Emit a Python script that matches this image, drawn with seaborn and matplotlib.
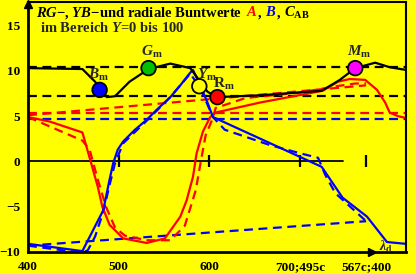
import matplotlib
matplotlib.use("Agg")
import matplotlib.pyplot as plt
import seaborn as sns

# RG value A (red), solid and dashed
a_x = [400, 424, 460, 468, 477, 482, 490, 505, 531, 551, 568, 575, 582, 586, 593, 601, 607, 656, 725, 742, 755, 772, 785, 794, 799, 808, 817]
a_y = [4.9, 4.4, 3.2, 0.4, -2.8, -5.0, -7.0, -8.5, -9.0, -8.5, -6.1, -4.3, -1.7, 0.9, 3.3, 4.9, 5.4, 6.5, 7.8, 8.8, 9.1, 9.0, 7.9, 6.5, 5.4, 5.0, 4.8]
a2_x = [400, 460, 468, 477, 486, 496, 507, 531, 557, 573, 585, 591, 596, 604, 607, 640, 700, 740, 761, 773]
a2_y = [4.9, 2.3, 1.3, -2.0, -5.0, -7.3, -8.2, -8.7, -8.7, -7.1, -3.2, 0.2, 2.9, 4.8, 5.9, 7.0, 7.6, 8.3, 8.6, 8.6]

# YB value B (blue), solid and dashed
b_x = [400, 460, 483, 490, 494, 499, 505, 518, 531, 542, 557, 568, 579, 582, 590, 598, 604, 724, 747, 774, 796, 817]
b_y = [-9.1, -9.9, -5.4, -2.0, -0.2, 1.3, 2.2, 3.5, 4.6, 5.7, 7.1, 8.4, 9.8, 10.1, 8.4, 6.5, 4.9, -0.6, -4.0, -6.1, -8.9, -9.1]
b2_x = [400, 460, 466, 474, 483, 490, 496, 505, 531, 557, 579, 590, 604, 617, 667, 700, 720, 728, 739, 773]
b2_y = [-9.3, -10.1, -9.8, -8.3, -5.6, -2.6, -0.2, 2.0, 4.5, 7.1, 9.7, 8.1, 4.9, 3.5, 1.8, 0.9, 0.4, -1.5, -3.5, -6.6]

# radial value C_AB (black)
c_x = [400, 460, 474, 487, 496, 512, 533, 557, 579, 590, 598, 608, 656, 724, 744, 761, 783, 799, 817]
c_y = [10.3, 10.2, 8.8, 7.1, 7.2, 8.8, 10.2, 10.8, 10.3, 8.8, 7.7, 7.1, 7.3, 7.8, 9.0, 10.3, 10.9, 10.4, 10.1]

# chords 400 -> 567c;400
chord_x = [400, 773]
chord_a = [5.1, 8.4]
chord_b = [-9.3, -6.6]

# horizontal levels
c_levels = [10.4, 7.2]
a_level = 5.3
b_level = 4.7

# marked points
pt_x = [479, 533, 589, 609, 761]
pt_y = [7.9, 10.3, 8.3, 7.1, 10.3]
pt_col = ["#0000ff", "#00c000", "#ffff00", "#ff0000", "#ff00ff"]
pt_lab = [r"$B_{\rm m}$", r"$G_{\rm m}$", r"$Y_{\rm m}$", r"$\mathrm{R}_{\rm m}$", r"$M_{\rm m}$"]
lab_x = [478, 537, 597, 616, 765]
lab_y = [9.5, 12.1, 9.5, 8.5, 12.1]

xticks = [400, 500, 600, 700, 773]
xlabels = ["400", "500", "600", "700;495c", "567c;400"]
yticks = [-10, -5, 0, 5, 10, 15]

sns.set_theme(style="white")
plt.rcParams["font.family"] = ["Liberation Serif", "DejaVu Serif"]
plt.rcParams["font.weight"] = "bold"
plt.rcParams["mathtext.fontset"] = "custom"
plt.rcParams["mathtext.rm"] = "Liberation Serif:bold"
plt.rcParams["mathtext.bf"] = "Liberation Serif:bold"
plt.rcParams["mathtext.it"] = "Liberation Serif:italic:bold"

yel = "#ffff00"
fig = plt.figure(figsize=(4.16, 2.74), dpi=100, facecolor=yel)
ax = fig.add_axes([28 / 416, 22 / 274, 378 / 416, 250 / 274])
ax.set_facecolor(yel)
ax.set_xlim(400, 817)
ax.set_ylim(-10, 17.6)

lw = 1.6
dash = (4, 2.5)
for lv in c_levels:
    ax.axhline(lv, color="black", lw=lw, dashes=dash)
ax.axhline(a_level, color="red", lw=lw, dashes=dash)
ax.axhline(b_level, color="blue", lw=lw, dashes=dash)

# zero line with ticks
ax.plot([400, 747], [0, 0], color="black", lw=1.3)
ax.plot(xticks[1:], [0] * 4, ls="none", marker="|", ms=9, mew=1.6, color="black")

sns.lineplot(x=chord_x, y=chord_a, ax=ax, color="red", lw=lw, dashes=dash)
sns.lineplot(x=chord_x, y=chord_b, ax=ax, color="blue", lw=lw, dashes=dash)
sns.lineplot(x=a2_x, y=a2_y, ax=ax, color="red", lw=lw, dashes=dash, sort=False)
sns.lineplot(x=b2_x, y=b2_y, ax=ax, color="blue", lw=lw, dashes=dash, sort=False)
sns.lineplot(x=a_x, y=a_y, ax=ax, color="red", lw=lw, sort=False)
sns.lineplot(x=b_x, y=b_y, ax=ax, color="blue", lw=lw, sort=False)
sns.lineplot(x=c_x, y=c_y, ax=ax, color="black", lw=lw, sort=False)

sns.scatterplot(x=pt_x, y=pt_y, ax=ax, c=pt_col, s=110, edgecolor="black",
                linewidth=1.3, zorder=5, legend=False)
for x, y, t in zip(lab_x, lab_y, pt_lab):
    ax.text(x, y, t, fontsize=11, ha="center", va="center", zorder=6)

# axes styling
for s in ["left", "bottom"]:
    ax.spines[s].set_linewidth(2)
for s in ["top", "right"]:
    ax.spines[s].set_linewidth(1.5)
for s in ax.spines.values():
    s.set_color("black")
ax.set_xticks(xticks)
ax.set_xticklabels(xlabels)
ax.set_yticks(yticks)
ax.set_yticklabels(["\u221210", "\u22125", "0", "5", "10", "15"])
ax.tick_params(axis="both", direction="inout", length=9, width=1.6,
               labelsize=9.5, colors="black", pad=1)
ax.tick_params(axis="x", pad=2)
for lab in ax.get_xticklabels() + ax.get_yticklabels():
    lab.set_fontweight("bold")
ax.plot([400], [17.4], marker="^", ms=6, color="black", clip_on=False)
ax.plot([779], [-10], marker=">", ms=6, color="black", clip_on=False)
ax.text(787, -9.4, r"$\lambda_{\rm d}$", fontsize=10, ha="left", va="center")

# title, coloured pieces (gap in pixels after each piece)
fig.canvas.draw()
r = fig.canvas.get_renderer()
x0 = 36
pieces = [("$RG$\u2212, $YB$\u2212und radiale Buntwerte", "black", 4), ("$A$", "red", 0),
          (",", "black", 4), ("$B$", "blue", 0), (",", "black", 4), (r"$C_{\rm AB}$", "black", 0)]
for txt, col, gap in pieces:
    t = fig.text(x0 / 416, 1 - 16.5 / 274, txt, fontsize=10.5, color=col, va="baseline", ha="left")
    x0 += t.get_window_extent(r).width + gap
fig.text(40 / 416, 1 - 31.5 / 274, "im Bereich $Y$=0 bis 100", fontsize=10.5, va="baseline", ha="left")

fig.savefig("out.png", dpi=100, facecolor=yel)
